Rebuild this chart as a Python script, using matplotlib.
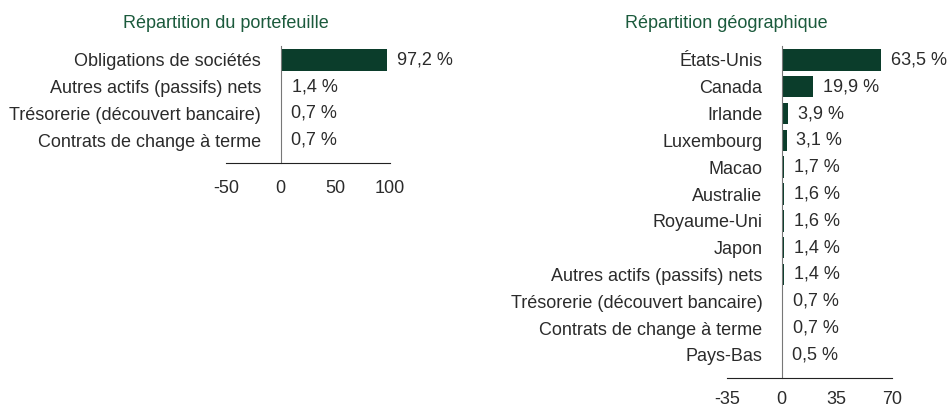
import matplotlib
matplotlib.use("Agg")
import matplotlib.pyplot as plt
import numpy as np

plt.rcParams['font.family'] = ['Liberation Sans', 'DejaVu Sans']

# données
port_labels = ["Obligations de sociétés", "Autres actifs (passifs) nets",
               "Trésorerie (découvert bancaire)", "Contrats de change à terme"]
port_values = [97.2, 1.4, 0.7, 0.7]
port_ticks = [-50, 0, 50, 100]

geo_labels = ["États-Unis", "Canada", "Irlande", "Luxembourg", "Macao", "Australie",
              "Royaume-Uni", "Japon", "Autres actifs (passifs) nets",
              "Trésorerie (découvert bancaire)", "Contrats de change à terme", "Pays-Bas"]
geo_values = [63.5, 19.9, 3.9, 3.1, 1.7, 1.6, 1.6, 1.4, 1.4, 0.7, 0.7, 0.5]
geo_ticks = [-35, 0, 35, 70]

bar_col = "#0b3d2b"
title_col = "#1b5a3c"
txt_col = "#2b2b2b"
fs = 13

W, H = 949, 411
fig = plt.figure(figsize=(W / 100, H / 100), dpi=100)


def panel(rect, labels, values, ticks, title, xpad):
    ax = fig.add_axes(rect)
    y = np.arange(len(labels))
    ax.barh(y, values, height=0.8, color=bar_col)
    ax.set_xlim(ticks[0], ticks[-1])
    ax.set_ylim(len(labels) - 1 + 0.86, -0.52)
    ax.set_yticks(y)
    ax.set_yticklabels(labels)
    ax.set_xticks(ticks)
    ax.set_xticklabels([str(t) for t in ticks])
    ax.tick_params(axis='y', length=0, pad=14, labelsize=fs, labelcolor=txt_col)
    ax.tick_params(axis='x', length=0, pad=xpad, labelsize=fs, labelcolor=txt_col)
    for s in ['top', 'right']:
        ax.spines[s].set_visible(False)
    ax.spines['left'].set_position(('data', 0))
    ax.spines['left'].set_color('#777777')
    ax.spines['bottom'].set_color('#222222')
    for yi, v in zip(y, values):
        ax.annotate(f"{v:.1f} %".replace('.', ','), (v, yi), xytext=(7, 0),
                    textcoords='offset points', va='center', ha='left',
                    fontsize=fs, color=txt_col)
    ax.annotate(title, (0, 1), xycoords='axes fraction', xytext=(0, 10),
                textcoords='offset points', ha='center', va='bottom',
                fontsize=fs, color=title_col)
    return ax


panel([226 / W, 1 - 163 / H, 164 / W, 117 / H], port_labels, port_values,
      port_ticks, "Répartition du portefeuille", 12)
panel([726.7 / W, 1 - 378 / H, 165 / W, 332 / H], geo_labels, geo_values,
      geo_ticks, "Répartition géographique", 9)

fig.savefig("out.png", dpi=100, facecolor='white')
